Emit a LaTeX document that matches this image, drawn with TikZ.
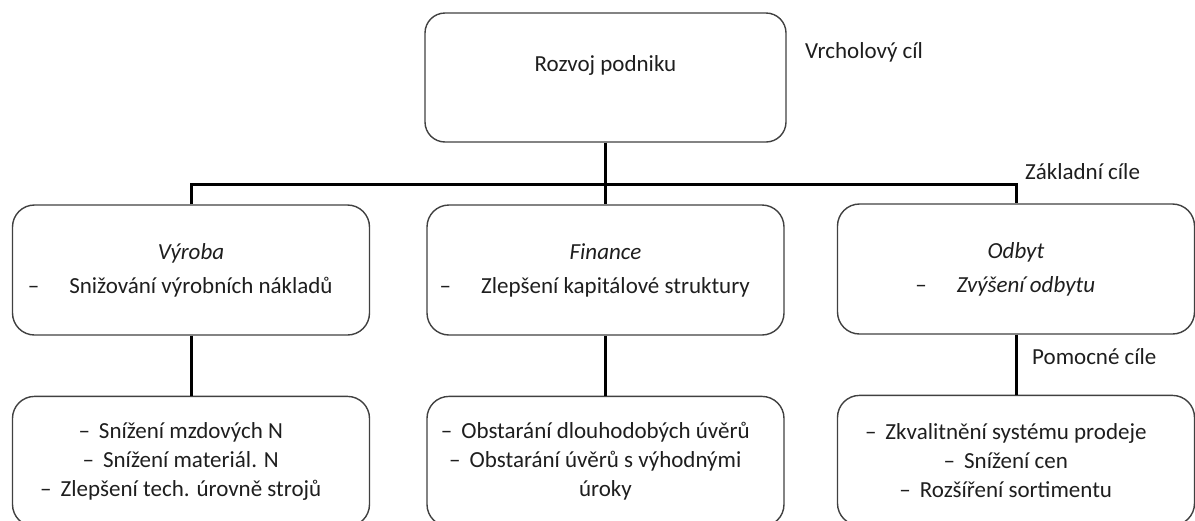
\documentclass[tikz,border=0pt]{standalone}
\usepackage{fontspec}
\setmainfont{Carlito}
\definecolor{orgline}{RGB}{0,0,0}
\definecolor{orgbox}{RGB}{64,64,64}
\definecolor{orgtext}{RGB}{30,30,30}
\usetikzlibrary{positioning}

% list lines: dash hanging left of the centred text
\newcommand{\subline}[1]{\llap{–\hspace{9pt}}#1}
\newcommand{\arealine}[1]{\hspace*{20pt}\llap{–\hspace{30pt}}#1}

\begin{document}
\begin{tikzpicture}[x=1pt, y=-1pt,
  font=\fontsize{23}{29}\selectfont, text=orgtext,
  goalbox/.style={rectangle, rounded corners=20pt, draw=orgbox, line width=1.4pt,
                  minimum width=361pt, minimum height=129pt},
  areabox/.style={rectangle, rounded corners=22pt, draw=orgbox, line width=1.4pt,
                  minimum width=357pt, minimum height=130pt, align=center},
  subbox/.style={areabox},
  conn/.style={line width=3pt, draw=orgline},
  tag/.style={anchor=west, inner sep=0pt}
]
\useasboundingbox (0,0) rectangle (1195,520);
\clip (0,0) rectangle (1195,520);

% Top goal
\node[goalbox, text height=16pt, text depth=29pt] (goal) at (605.5,77.5) {Rozvoj podniku};

% Basic goals
\node[areabox] (vyroba)  at (191,270)
  {\textit{Výroba}\\[5pt]\arealine{Snižování výrobních nákladů}};
\node[areabox] (finance) at (605.5,270)
  {\textit{Finance}\\[5pt]\arealine{Zlepšení kapitálové struktury}};
\node[areabox] (odbyt)   at (1016,269)
  {\textit{Odbyt}\\[5pt]\arealine{\textit{Zvýšení odbytu}}};

% Supporting goals
\node[subbox, below=60pt of vyroba] (vyrobaSub)
  {\subline{Snížení mzdových N}\\\subline{Snížení materiál. N}\\\subline{Zlepšení tech. úrovně strojů}};
\node[subbox, below=60pt of finance] (financeSub)
  {\subline{Obstarání dlouhodobých úvěrů}\\\subline{Obstarání úvěrů s výhodnými}\\úroky};
\node[subbox, below=60pt of odbyt] (odbytSub)
  {\subline{Zkvalitnění systému prodeje}\\\subline{Snížení cen}\\\subline{Rozšíření sortimentu}};

% Level tags
\node[tag] (topTag)  at (805,52)   {Vrcholový cíl};
\node[tag] (baseTag) at (1025,172) {Základní cíle};
\node[tag] (helpTag) at (1032,357) {Pomocné cíle};

% Connectors
\coordinate (bus) at (605.5,184);
\draw[conn] (goal.south) -- (finance.north);
\draw[conn] (vyroba.north) |- (bus) -| (odbyt.north);
\draw[conn] (vyroba.south)  -- (vyrobaSub.north);
\draw[conn] (finance.south) -- (financeSub.north);
\draw[conn] (odbyt.south)   -- (odbytSub.north);
\end{tikzpicture}
\end{document}
